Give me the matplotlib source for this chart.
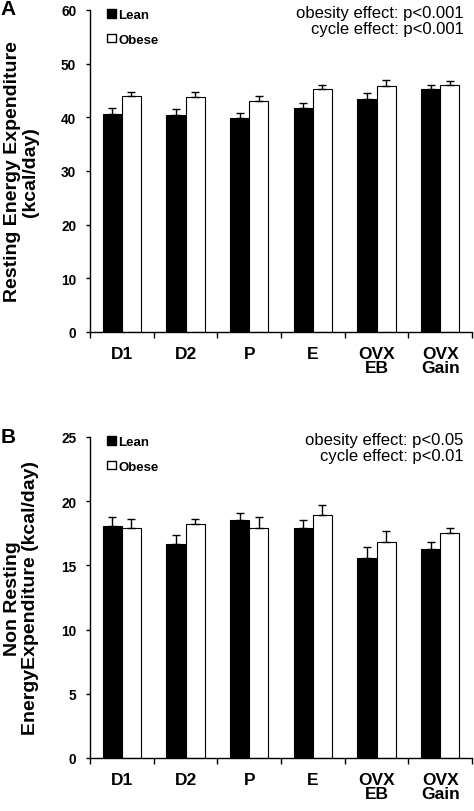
import numpy as np
import matplotlib.pyplot as plt
from matplotlib.patches import Patch

categories = ['D1', 'D2', 'P', 'E', 'OVX\nEB', 'OVX\nGain']

# panel A: resting energy expenditure (kcal/day)
rest_lean = [40.6, 40.4, 39.9, 41.7, 43.4, 45.3]
rest_lean_err = [1.2, 1.1, 0.9, 1.0, 1.1, 0.8]
rest_obese = [44.0, 43.7, 43.1, 45.2, 45.8, 46.1]
rest_obese_err = [0.8, 1.0, 0.9, 0.9, 1.2, 0.7]

# panel B: non resting energy expenditure (kcal/day)
nonrest_lean = [18.1, 16.7, 18.5, 17.9, 15.6, 16.3]
nonrest_lean_err = [0.7, 0.7, 0.6, 0.6, 0.8, 0.5]
nonrest_obese = [17.9, 18.2, 17.9, 18.9, 16.8, 17.5]
nonrest_obese_err = [0.7, 0.45, 0.85, 0.8, 0.9, 0.4]

plt.rcParams['font.family'] = ['Liberation Sans', 'DejaVu Sans']

fig = plt.figure(figsize=(4.74, 8.12), dpi=100)
axA = fig.add_axes([0.19, 0.590, 0.806, 0.3965])
axB = fig.add_axes([0.19, 0.0653, 0.806, 0.3953])

def draw_panel(ax, lean, lean_err, obese, obese_err, ymax, ystep, ylabel, texts, letter, letter_y):
    x = np.arange(len(categories))
    w = 0.3
    ax.bar(x - w / 2, lean, w, color='black', edgecolor='black', linewidth=0.8,
           yerr=[np.zeros(len(lean)), lean_err], error_kw=dict(ecolor='black', elinewidth=1, capsize=2.6, capthick=1))
    ax.bar(x + w / 2, obese, w, color='white', edgecolor='black', linewidth=0.8,
           yerr=[np.zeros(len(obese)), obese_err], error_kw=dict(ecolor='black', elinewidth=1, capsize=2.6, capthick=1))
    ax.set_xlim(-0.5, len(categories) - 0.5)
    ax.set_ylim(0, ymax)
    ax.set_yticks(np.arange(0, ymax + 0.1, ystep))
    ax.set_xticks(x)
    ax.set_xticklabels(categories, fontsize=12.5, fontweight='bold', linespacing=0.95)
    ax.set_xticks(np.arange(-0.5, len(categories)), minor=True)
    ax.tick_params(axis='x', which='major', length=0, pad=10)
    ax.tick_params(axis='x', which='minor', length=4, width=1, direction='out')
    ax.tick_params(axis='y', length=3, width=1, direction='out', labelsize=9.8, pad=7)
    for lab in ax.get_yticklabels():
        lab.set_fontweight('bold')
    for s in ['top', 'right']:
        ax.spines[s].set_visible(False)
    for s in ['left', 'bottom']:
        ax.spines[s].set_linewidth(1)
    ax.set_ylabel(ylabel, fontsize=14, fontweight='bold', labelpad=16, linespacing=1.05)
    handles = [Patch(facecolor='black', edgecolor='black', label='Lean'),
               Patch(facecolor='white', edgecolor='black', label='Obese')]
    ax.legend(handles=handles, loc='upper left', bbox_to_anchor=(0.045, 1.003), frameon=False,
              borderpad=0, borderaxespad=0,
              handlelength=0.65, handleheight=0.65, handletextpad=0.2, labelspacing=0.95,
              prop=dict(weight='bold', size=9.5))
    ax.text(0.978, 1.015, texts, transform=ax.transAxes, ha='right', va='top', fontsize=12, linespacing=1.05)
    ax.text(-0.235, letter_y, letter, transform=ax.transAxes, ha='left', va='center', fontsize=15, fontweight='bold')

draw_panel(axA, rest_lean, rest_lean_err, rest_obese, rest_obese_err, 60, 10,
           'Resting Energy Expenditure\n(kcal/day)',
           'obesity effect: p<0.001\ncycle effect: p<0.001', 'A', 1.005)
draw_panel(axB, nonrest_lean, nonrest_lean_err, nonrest_obese, nonrest_obese_err, 25, 5,
           'Non Resting\nEnergyExpenditure (kcal/day)',
           'obesity effect: p<0.05\ncycle effect: p<0.01', 'B', 1.0)

fig.savefig('out.png', dpi=100)
